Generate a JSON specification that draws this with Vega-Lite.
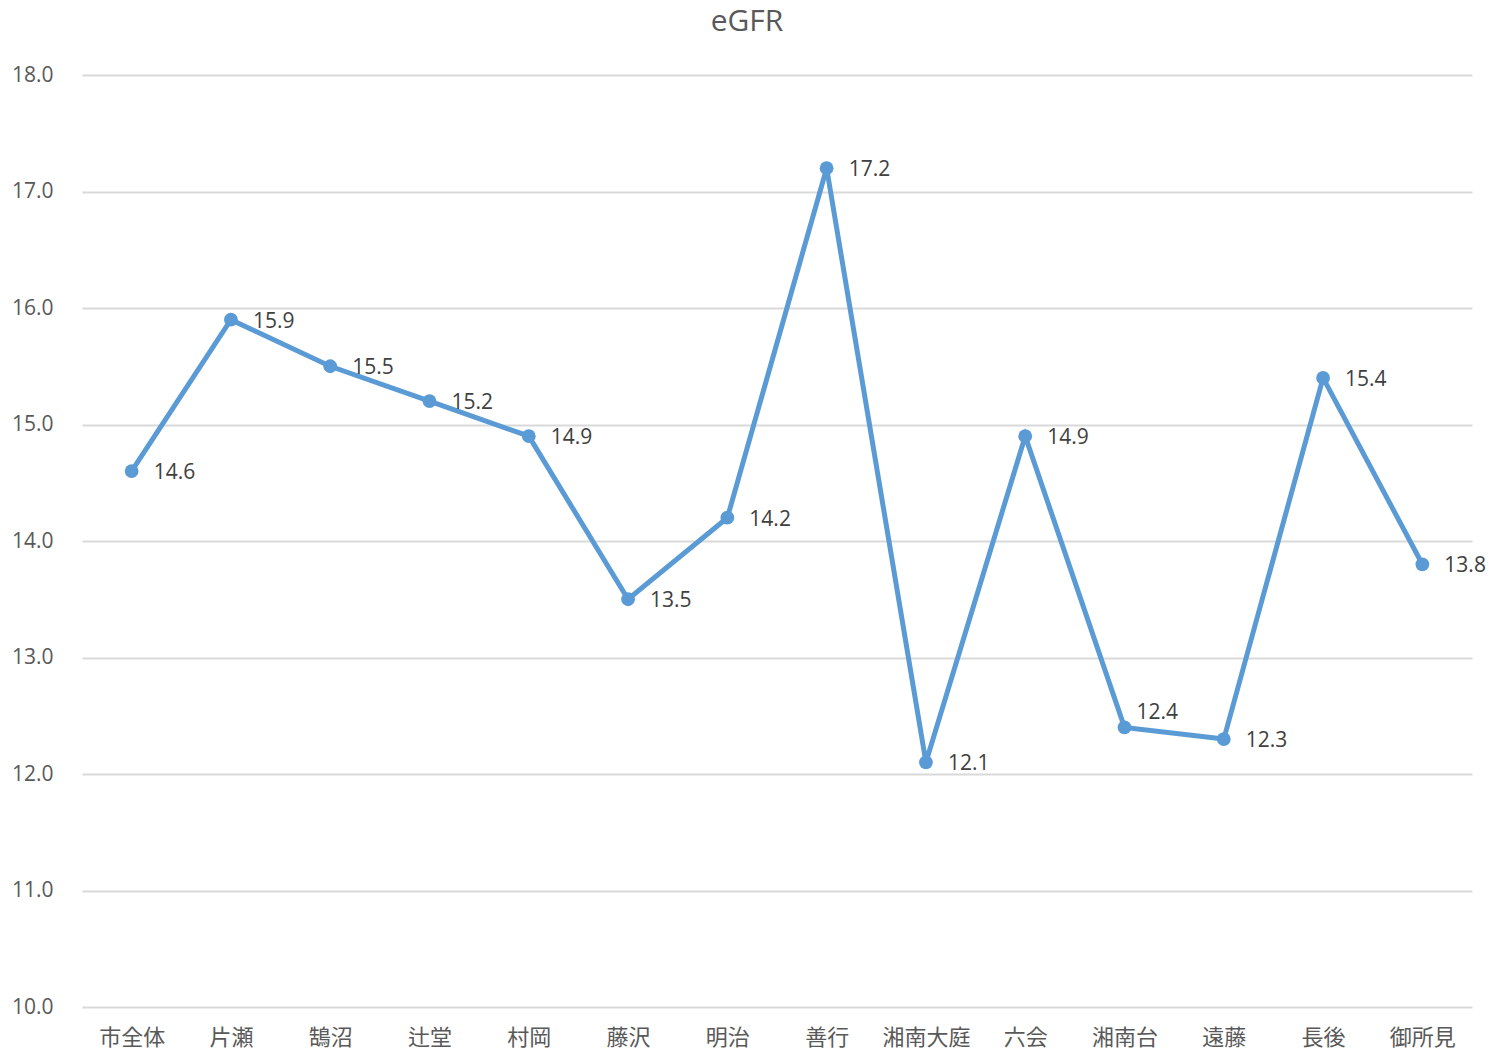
{
  "$schema": "https://vega.github.io/schema/vega-lite/v6.json",
  "autosize": "none",
  "width": 1390,
  "height": 932,
  "padding": {"left": 82, "top": 75, "right": 16, "bottom": 44},
  "background": "white",
  "title": {"text": "eGFR", "fontSize": 30, "font": "Open Sans", "fontWeight": "normal", "color": "#595959", "anchor": "middle", "offset": 27, "dx": -30},
  "config": {"view": {"stroke": null}},
  "data": {"values": [
    {"area": "市全体", "value": 14.6},
    {"area": "片瀬", "value": 15.9},
    {"area": "鵠沼", "value": 15.5},
    {"area": "辻堂", "value": 15.2},
    {"area": "村岡", "value": 14.9},
    {"area": "藤沢", "value": 13.5},
    {"area": "明治", "value": 14.2},
    {"area": "善行", "value": 17.2},
    {"area": "湘南大庭", "value": 12.1},
    {"area": "六会", "value": 14.9},
    {"area": "湘南台", "value": 12.4},
    {"area": "遠藤", "value": 12.3},
    {"area": "長後", "value": 15.4},
    {"area": "御所見", "value": 13.8}
  ]},
  "encoding": {
    "x": {"field": "area", "type": "nominal", "sort": null, "scale": {"paddingInner": 0, "paddingOuter": 0.5},
      "axis": {"title": null, "labelAngle": 0, "domain": false, "ticks": false, "labelPadding": 20, "labelFontSize": 22, "labelFont": "Noto Sans CJK JP", "labelColor": "#595959"}},
    "y": {"field": "value", "type": "quantitative", "scale": {"domain": [10, 18], "nice": false, "zero": false},
      "axis": {"title": null, "values": [10, 11, 12, 13, 14, 15, 16, 17, 18], "format": ".1f", "domain": false, "ticks": false, "labelPadding": 29, "labelFontSize": 21, "labelFont": "Open Sans", "labelColor": "#595959", "gridColor": "#d9d9d9", "gridWidth": 2}}
  },
  "layer": [
    {"mark": {"type": "line", "color": "#5B9BD5", "strokeWidth": 5}},
    {"mark": {"type": "point", "filled": true, "opacity": 1, "color": "#5B9BD5", "size": 190}},
    {"transform": [{"filter": "datum.area !== '湘南台'"}],
      "mark": {"type": "text", "align": "left", "baseline": "middle", "dx": 22, "dy": 2, "fontSize": 21, "font": "Open Sans", "color": "#404040"},
      "encoding": {"text": {"field": "value", "type": "quantitative", "format": ".1f"}}},
    {"transform": [{"filter": "datum.area === '湘南台'"}],
      "mark": {"type": "text", "align": "left", "baseline": "middle", "dx": 12, "dy": -14, "fontSize": 21, "font": "Open Sans", "color": "#404040"},
      "encoding": {"text": {"field": "value", "type": "quantitative", "format": ".1f"}}}
  ]
}
